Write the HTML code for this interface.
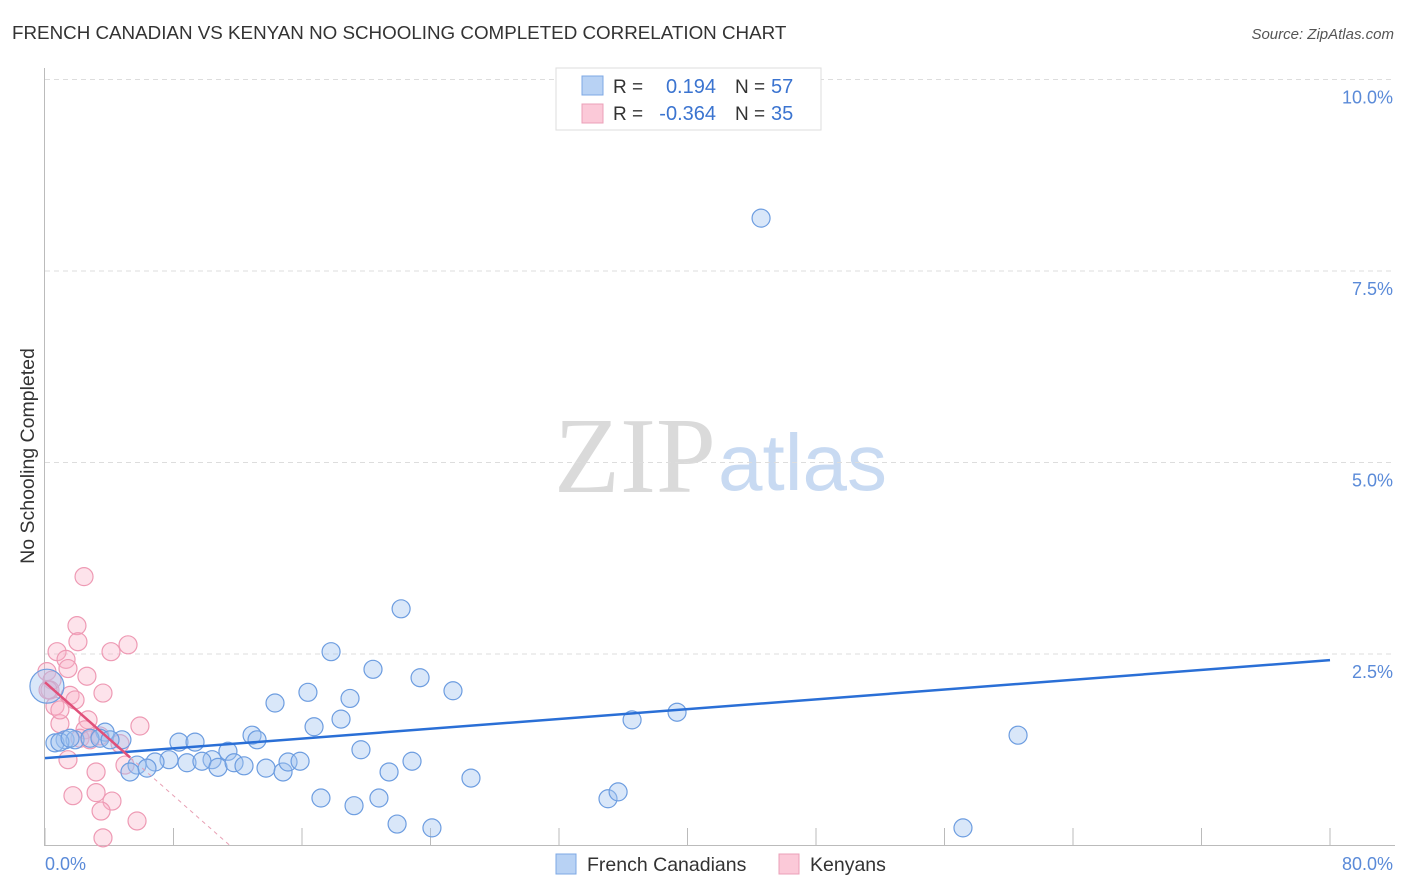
<!DOCTYPE html>
<html><head><meta charset="utf-8"><style>
body{margin:0;background:#fff;font-family:"Liberation Sans",sans-serif;}
svg{display:block}
</style></head><body>
<svg id="chart" width="1406" height="892" xmlns="http://www.w3.org/2000/svg">
<text x="12" y="39" font-size="18.8" fill="#333">FRENCH CANADIAN VS KENYAN NO SCHOOLING COMPLETED CORRELATION CHART</text>
<text x="1394" y="39" font-size="15" fill="#555" font-style="italic" text-anchor="end">Source: ZipAtlas.com</text>
<g>
<text x="635" y="492" font-size="108" font-family="Liberation Serif,serif" fill="#dadada" text-anchor="middle">ZIP</text>
<text x="718" y="490" font-size="80" fill="#c8daf2">atlas</text>
</g>
<text transform="translate(34,456) rotate(-90)" font-size="19.5" fill="#333" text-anchor="middle">No Schooling Completed</text>
<g id="grid"></g><g id="axes"></g><g id="marks"></g>
<g>
<rect x="556" y="68" width="265" height="62" fill="#fff" stroke="#ddd"/>
<rect x="582" y="76" width="21" height="19" fill="#b8d2f4" stroke="#7ea8e4"/>
<rect x="582" y="104" width="21" height="19" fill="#fbc9d8" stroke="#eba0b8"/>
<text font-size="19" fill="#333"><tspan x="613" y="93">R =</tspan><tspan x="613" y="120">R =</tspan><tspan x="735" y="93">N =</tspan><tspan x="735" y="120">N =</tspan></text>
<text font-size="20" fill="#3b74d0" text-anchor="end"><tspan x="716" y="93">0.194</tspan><tspan x="716" y="120">-0.364</tspan></text>
<text font-size="20" fill="#3b74d0"><tspan x="771" y="93">57</tspan><tspan x="771" y="120">35</tspan></text>
</g>
<g>
<rect x="556" y="854" width="20" height="20" fill="#b8d2f4" stroke="#7ea8e4"/>
<text x="587" y="871" font-size="19.5" fill="#333">French Canadians</text>
<rect x="779" y="854" width="20" height="20" fill="#fbc9d8" stroke="#eba0b8"/>
<text x="810" y="871" font-size="19.5" fill="#333">Kenyans</text>
</g>
</svg>
<script>
const yTicks=[2.5,5.0,7.5,10.0];
const yTickLabels=["2.5%","5.0%","7.5%","10.0%"];
const xTicks=[0,8,16,24,32,40,48,56,64,72,80];
const blueX=[44.58,22.17,17.81,20.42,23.35,14.32,16.37,18.99,25.40,36.55,39.35,60.58,18.43,16.75,12.89,13.20,8.34,9.34,3.74,4.79,1.25,1.87,0.62,2.80,11.39,19.67,10.40,8.84,9.77,7.72,6.85,5.73,6.35,5.29,10.77,11.77,12.39,13.76,14.82,15.13,15.88,22.85,21.42,26.52,17.18,19.24,20.79,21.92,24.09,35.05,35.68,57.15,0.12,3.42,4.05,0.93,1.56];
const blueY=[8.19,3.09,2.53,2.30,2.19,1.86,2.00,1.92,2.02,1.64,1.74,1.44,1.65,1.55,1.44,1.38,1.35,1.35,1.48,1.38,1.38,1.38,1.34,1.40,1.23,1.25,1.12,1.08,1.10,1.12,1.09,1.05,1.01,0.96,1.02,1.08,1.04,1.01,0.96,1.09,1.10,1.10,0.96,0.88,0.62,0.52,0.62,0.28,0.23,0.61,0.70,0.23,2.08,1.40,1.38,1.35,1.40];
const pinkX=[2.43,1.99,2.05,5.17,0.75,1.31,1.43,4.11,2.61,0.12,0.44,3.61,1.56,0.62,0.31,0.93,1.87,2.68,5.91,2.49,3.42,2.18,4.67,1.43,3.18,4.98,1.74,3.18,4.17,3.49,5.73,3.61,0.19,0.93,2.80];
const pinkY=[3.51,2.87,2.66,2.62,2.53,2.43,2.31,2.53,2.21,2.27,2.16,1.99,1.96,1.82,2.03,1.59,1.90,1.64,1.56,1.51,1.43,1.40,1.33,1.12,0.96,1.05,0.65,0.69,0.58,0.45,0.32,0.10,2.03,1.77,1.38];
const blueTrend=[1.14,2.42];
const pinkTrend=[2.13,-0.185];
const NS="http://www.w3.org/2000/svg";
const X0=45,X1=1330,Y0=845.5,YPX=191.5/2.5;
const sx=v=>X0+(v/80)*(X1-X0);
const sy=v=>Y0-v*YPX;
function mk(tag,attrs,parent){const e=document.createElementNS(NS,tag);for(const k in attrs)e.setAttribute(k,attrs[k]);parent.appendChild(e);return e;}
const grid=document.getElementById('grid'),axes=document.getElementById('axes'),marks=document.getElementById('marks');
yTicks.forEach((t,i)=>{
 const l=mk('line',{x1:45,x2:1395,y1:sy(t),y2:sy(t),stroke:'#ddd','stroke-dasharray':'5,4'},grid);
 
 
 const tx=mk('text',{x:1393,y:sy(t)+24,'font-size':18,fill:'#5a8ad8','text-anchor':'end'},axes);
 tx.textContent=yTickLabels[i];
 
 
});
const ya=mk('line',{x1:44.5,x2:44.5,y1:68,y2:846,stroke:'#bbb'},axes);


const xa=mk('line',{x1:44,x2:1395,y1:845.5,y2:845.5,stroke:'#bbb'},axes);


xTicks.forEach(t=>{
 const l=mk('line',{x1:sx(t),x2:sx(t),y1:828,y2:846,stroke:'#bbb'},axes);
 
 
});
const xl0=mk('text',{x:45,y:870,'font-size':18,fill:'#5a8ad8'},axes);xl0.textContent='0.0%';


const xl1=mk('text',{x:1393,y:870,'font-size':18,fill:'#5a8ad8','text-anchor':'end'},axes);xl1.textContent='80.0%';


pinkX.forEach((x,i)=>{
 const c=mk('circle',{cx:sx(x),cy:sy(pinkY[i]),r:9,fill:'rgba(248,176,198,0.35)',stroke:'#ee9ab4','stroke-width':1.2},marks);
 
 
});
blueX.forEach((x,i)=>{
 const c=mk('circle',{cx:sx(x),cy:sy(blueY[i]),r:i==52?17:9,fill:'rgba(160,196,240,0.4)',stroke:'#6d9de0','stroke-width':1.2},marks);
 
 
});
const bl=mk('line',{x1:sx(0),y1:sy(blueTrend[0]),x2:sx(80),y2:sy(blueTrend[1]),stroke:'#2a6fd6','stroke-width':2.5},marks);


const pEnd=5.3,pZero=-pinkTrend[0]/pinkTrend[1];
const pl=mk('line',{x1:sx(0),y1:sy(pinkTrend[0]),x2:sx(pEnd),y2:sy(pinkTrend[0]+pinkTrend[1]*pEnd),stroke:'#e0507a','stroke-width':2.5},marks);


const pd=mk('line',{x1:sx(pEnd),y1:sy(pinkTrend[0]+pinkTrend[1]*pEnd),x2:sx(pZero),y2:sy(0),stroke:'#e8a0b4','stroke-width':1,'stroke-dasharray':'4,4'},marks);


</script>
</body></html>
